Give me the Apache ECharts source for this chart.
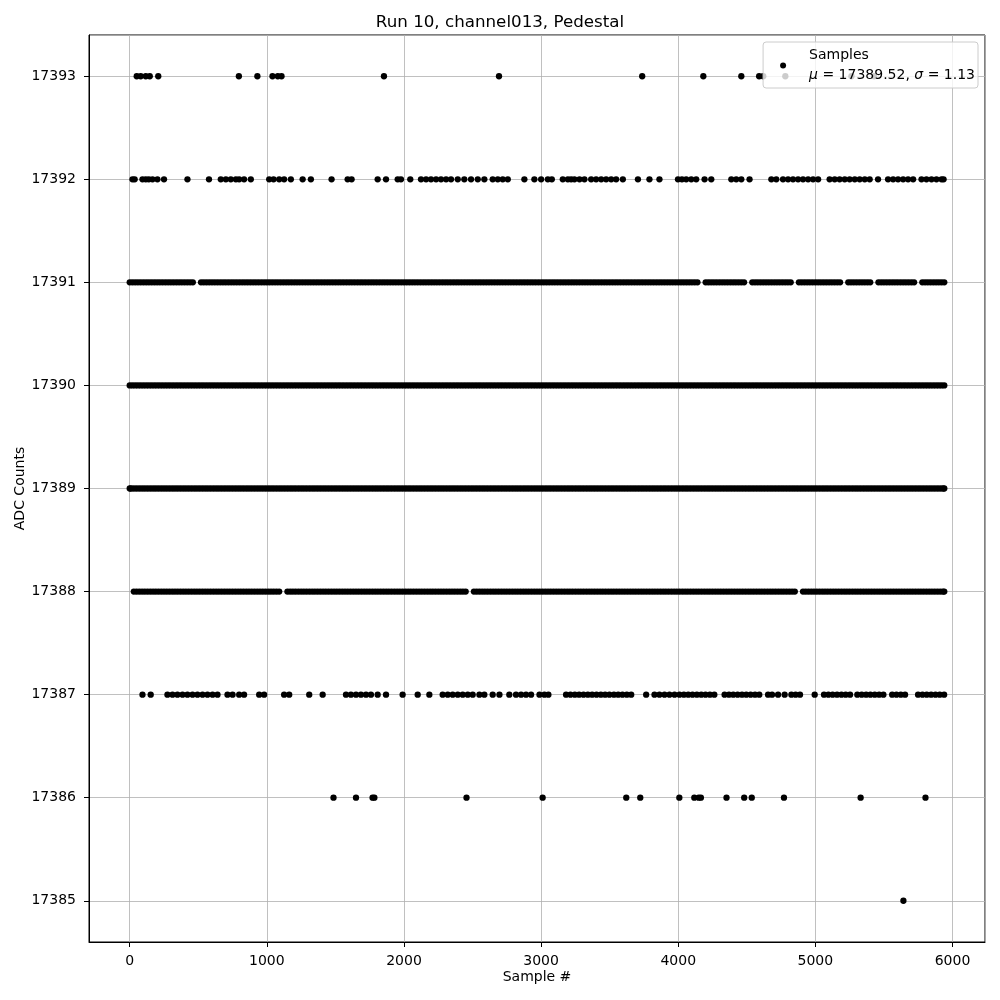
<!DOCTYPE html>
<html>
<head>
<meta charset="utf-8">
<script src="https://cdn.jsdelivr.net/npm/echarts@6/dist/echarts.min.js"></script>
<style>html,body{margin:0;padding:0;background:#fff}#c{width:1000px;height:1000px}</style>
</head>
<body>
<div id="c"></div>
<script>
// ADC levels (y values)
const levels = [17385, 17386, 17387, 17388, 17389, 17390, 17391, 17392, 17393];

const x17385 = [5642];
const x17386 = [1486, 1650, 1771, 1784, 2456, 3011, 3621, 3723, 4008, 4117, 4149, 4165, 4352, 4481, 4536, 4771, 5330, 5803];
const x17387 = [93, 153, 275, 312, 348, 385, 421, 458, 494, 531, 567, 604, 640, 713, 750, 798, 834, 944, 980, 1126, 1163, 1309, 1407, 1577, 1613, 1650, 1686, 1723, 1759, 1808, 1869, 1990, 2100, 2185, 2282, 2319, 2355, 2392, 2428, 2465, 2501, 2550, 2586, 2647, 2696, 2768, 2817, 2854, 2890, 2927, 2988, 3024, 3053, 3182, 3214, 3246, 3277, 3309, 3341, 3372, 3404, 3436, 3467, 3498, 3531, 3562, 3593, 3625, 3657, 3766, 3827, 3863, 3900, 3936, 3973, 4009, 4041, 4073, 4104, 4136, 4168, 4199, 4231, 4263, 4338, 4370, 4401, 4433, 4465, 4496, 4528, 4560, 4591, 4655, 4684, 4728, 4776, 4825, 4856, 4888, 4995, 5063, 5095, 5126, 5158, 5190, 5221, 5253, 5306, 5338, 5370, 5401, 5433, 5465, 5496, 5560, 5591, 5623, 5654, 5749, 5781, 5812, 5844, 5876, 5907, 5939];
const x17388 = [30,50,70,90,110,130,150,170,190,210,230,250,270,290,310,330,350,370,390,410,430,450,470,490,510,530,550,570,590,610,630,650,670,690,710,730,750,770,790,810,830,850,870,890,910,930,950,970,990,1010,1030,1050,1070,1090,
1150,1170,1190,1210,1230,1250,1270,1290,1310,1330,1350,1370,1390,1410,1430,1450,1470,1490,1510,1530,1550,1570,1590,1610,1630,1650,1670,1690,1710,1730,1750,1770,1790,1810,1830,1850,1870,1890,1910,1930,1950,1970,1990,
2010,2030,2050,2070,2090,2110,2130,2150,2170,2190,2210,2230,2250,2270,2290,2310,2330,2350,2370,2390,2410,2430,2450,
2510,2530,2550,2570,2590,2610,2630,2650,2670,2690,2710,2730,2750,2770,2790,2810,2830,2850,2870,2890,2910,2930,2950,2970,2990,
3010,3030,3050,3070,3090,3110,3130,3150,3170,3190,3210,3230,3250,3270,3290,3310,3330,3350,3370,3390,3410,3430,3450,3470,3490,3510,3530,3550,3570,3590,3610,3630,3650,3670,3690,3710,3730,3750,3770,3790,3810,3830,3850,3870,3890,3910,3930,3950,3970,3990,
4010,4030,4050,4070,4090,4110,4130,4150,4170,4190,4210,4230,4250,4270,4290,4310,4330,4350,4370,4390,4410,4430,4450,4470,4490,4510,4530,4550,4570,4590,4610,4630,4650,4670,4690,4710,4730,4750,4770,4790,4810,4830,4850,
4910,4930,4950,4970,4990,5010,5030,5050,5070,5090,5110,5130,5150,5170,5190,5210,5230,5250,5270,5290,5310,5330,5350,5370,5390,5410,5430,5450,5470,5490,5510,5530,5550,5570,5590,5610,5630,5650,5670,5690,5710,5730,5750,5770,5790,5810,5830,5850,5870,5890,5910,5930,5940];
const x17389 = [0,10,30,50,70,90,110,130,150,170,190,210,230,250,270,290,310,330,350,370,390,410,430,450,470,490,510,530,550,570,590,610,630,650,670,690,710,730,750,770,790,810,830,850,870,890,910,930,950,970,990,
1010,1030,1050,1070,1090,1110,1130,1150,1170,1190,1210,1230,1250,1270,1290,1310,1330,1350,1370,1390,1410,1430,1450,1470,1490,1510,1530,1550,1570,1590,1610,1630,1650,1670,1690,1710,1730,1750,1770,1790,1810,1830,1850,1870,1890,1910,1930,1950,1970,1990,
2010,2030,2050,2070,2090,2110,2130,2150,2170,2190,2210,2230,2250,2270,2290,2310,2330,2350,2370,2390,2410,2430,2450,2470,2490,2510,2530,2550,2570,2590,2610,2630,2650,2670,2690,2710,2730,2750,2770,2790,2810,2830,2850,2870,2890,2910,2930,2950,2970,2990,
3010,3030,3050,3070,3090,3110,3130,3150,3170,3190,3210,3230,3250,3270,3290,3310,3330,3350,3370,3390,3410,3430,3450,3470,3490,3510,3530,3550,3570,3590,3610,3630,3650,3670,3690,3710,3730,3750,3770,3790,3810,3830,3850,3870,3890,3910,3930,3950,3970,3990,
4010,4030,4050,4070,4090,4110,4130,4150,4170,4190,4210,4230,4250,4270,4290,4310,4330,4350,4370,4390,4410,4430,4450,4470,4490,4510,4530,4550,4570,4590,4610,4630,4650,4670,4690,4710,4730,4750,4770,4790,4810,4830,4850,4870,4890,4910,4930,4950,4970,4990,
5010,5030,5050,5070,5090,5110,5130,5150,5170,5190,5210,5230,5250,5270,5290,5310,5330,5350,5370,5390,5410,5430,5450,5470,5490,5510,5530,5550,5570,5590,5610,5630,5650,5670,5690,5710,5730,5750,5770,5790,5810,5830,5850,5870,5890,5910,5930,5940];
const x17390 = [0,20,40,60,80,100,120,140,160,180,200,220,240,260,280,300,320,340,360,380,400,420,440,460,480,500,520,540,560,580,600,620,640,660,680,700,720,740,760,780,800,820,840,860,880,900,920,940,960,980,
1000,1020,1040,1060,1080,1100,1120,1140,1160,1180,1200,1220,1240,1260,1280,1300,1320,1340,1360,1380,1400,1420,1440,1460,1480,1500,1520,1540,1560,1580,1600,1620,1640,1660,1680,1700,1720,1740,1760,1780,1800,1820,1840,1860,1880,1900,1920,1940,1960,1980,
2000,2020,2040,2060,2080,2100,2120,2140,2160,2180,2200,2220,2240,2260,2280,2300,2320,2340,2360,2380,2400,2420,2440,2460,2480,2500,2520,2540,2560,2580,2600,2620,2640,2660,2680,2700,2720,2740,2760,2780,2800,2820,2840,2860,2880,2900,2920,2940,2960,2980,
3000,3020,3040,3060,3080,3100,3120,3140,3160,3180,3200,3220,3240,3260,3280,3300,3320,3340,3360,3380,3400,3420,3440,3460,3480,3500,3520,3540,3560,3580,3600,3620,3640,3660,3680,3700,3720,3740,3760,3780,3800,3820,3840,3860,3880,3900,3920,3940,3960,3980,
4000,4020,4040,4060,4080,4100,4120,4140,4160,4180,4200,4220,4240,4260,4280,4300,4320,4340,4360,4380,4400,4420,4440,4460,4480,4500,4520,4540,4560,4580,4600,4620,4640,4660,4680,4700,4720,4740,4760,4780,4800,4820,4840,4860,4880,4900,4920,4940,4960,4980,
5000,5020,5040,5060,5080,5100,5120,5140,5160,5180,5200,5220,5240,5260,5280,5300,5320,5340,5360,5380,5400,5420,5440,5460,5480,5500,5520,5540,5560,5580,5600,5620,5640,5660,5680,5700,5720,5740,5760,5780,5800,5820,5840,5860,5880,5900,5920,5940];
const x17391 = [0,20,40,60,80,100,120,140,160,180,200,220,240,260,280,300,320,340,360,380,400,420,440,460,
520,540,560,580,600,620,640,660,680,700,720,740,760,780,800,820,840,860,880,900,920,940,960,980,
1000,1020,1040,1060,1080,1100,1120,1140,1160,1180,1200,1220,1240,1260,1280,1300,1320,1340,1360,1380,1400,1420,1440,1460,1480,1500,1520,1540,1560,1580,1600,1620,1640,1660,1680,1700,1720,1740,1760,1780,1800,1820,1840,1860,1880,1900,1920,1940,1960,1980,
2000,2020,2040,2060,2080,2100,2120,2140,2160,2180,2200,2220,2240,2260,2280,2300,2320,2340,2360,2380,2400,2420,2440,2460,2480,2500,2520,2540,2560,2580,2600,2620,2640,2660,2680,2700,2720,2740,2760,2780,2800,2820,2840,2860,2880,2900,2920,2940,2960,2980,
3000,3020,3040,3060,3080,3100,3120,3140,3160,3180,3200,3220,3240,3260,3280,3300,3320,3340,3360,3380,3400,3420,3440,3460,3480,3500,3520,3540,3560,3580,3600,3620,3640,3660,3680,3700,3720,3740,3760,3780,3800,3820,3840,3860,3880,3900,3920,3940,3960,3980,
4000,4020,4040,4060,4080,4100,4120,4140,
4200,4220,4240,4260,4280,4300,4320,4340,4360,4380,4400,4420,4440,4460,4480,
4540,4560,4580,4600,4620,4640,4660,4680,4700,4720,4740,4760,4780,4800,4820,
4880,4900,4920,4940,4960,4980,5000,5020,5040,5060,5080,5100,5120,5140,5160,5180,
5240,5260,5280,5300,5320,5340,5360,5380,5400,
5460,5480,5500,5520,5540,5560,5580,5600,5620,5640,5660,5680,5700,5720,
5780,5800,5820,5840,5860,5880,5900,5920,5940];
const x17392 = [20, 36, 93, 117, 139, 166, 202, 250, 421, 578, 664, 701, 737, 774, 798, 834, 883, 1017, 1049, 1090, 1126, 1175, 1261, 1321, 1472, 1589, 1618, 1808, 1869, 1954, 1978, 2046, 2124, 2161, 2197, 2234, 2270, 2307, 2343, 2392, 2440, 2489, 2538, 2586, 2647, 2684, 2720, 2757, 2878, 2951, 3000, 3049, 3078, 3158, 3195, 3219, 3243, 3280, 3316, 3365, 3401, 3438, 3474, 3511, 3547, 3596, 3706, 3790, 3863, 3998, 4027, 4058, 4095, 4131, 4192, 4241, 4387, 4423, 4460, 4520, 4679, 4715, 4764, 4801, 4837, 4874, 4910, 4947, 4983, 5020, 5104, 5141, 5177, 5214, 5250, 5287, 5323, 5360, 5396, 5457, 5530, 5567, 5603, 5640, 5676, 5713, 5774, 5810, 5847, 5883, 5920, 5935];
const x17393 = [51, 80, 117, 146, 208, 796, 931, 1041, 1080, 1107, 1854, 2693, 3737, 4183, 4460, 4590, 4620, 4781, 5263, 5428];

const xByLevel = [x17385, x17386, x17387, x17388, x17389, x17390, x17391, x17392, x17393];

const titleText = 'Run 10, channel013, Pedestal';
const seriesName = 'Samples';
const muText = '17389.52';
const sigmaText = '1.13';

const points = [];
levels.forEach((lv, i) => xByLevel[i].forEach(x => points.push([x, lv])));

const FONT = 'DejaVu Sans';
const FS = 14;
const chart = echarts.init(document.getElementById('c'), null, {renderer: 'canvas'});
chart.setOption({
  animation: false,
  backgroundColor: '#fff',
  textStyle: {fontFamily: FONT, color: '#000'},
  title: {
    text: titleText, left: 'center', top: 9,
    textStyle: {fontFamily: FONT, fontSize: 16.7, fontWeight: 'normal', color: '#000'}
  },
  grid: {left: 89, right: 15, top: 35, bottom: 58, outerBoundsMode: 'none', containLabel: false,
         show: true, borderColor: '#000', borderWidth: 1, backgroundColor: 'transparent'},
  legend: {
    right: 22, top: 42,
    padding: [3, 3, 2, 17],
    backgroundColor: 'rgba(255,255,255,0.8)',
    borderColor: '#cccccc', borderWidth: 1, borderRadius: 3,
    itemWidth: 24, itemHeight: 6,
    data: [seriesName],
    formatter: () => '{n|' + seriesName + '}\n{i|μ}{t| = ' + muText + ', }{j|σ}{t| = ' + sigmaText + '}',
    textStyle: {
      fontFamily: FONT, fontSize: FS, color: '#000', lineHeight: 20.5,
      rich: {
        n: {fontFamily: FONT, fontSize: FS, lineHeight: 20.5, padding: [0, 0, 0, 9]},
        i: {fontFamily: FONT, fontSize: FS, lineHeight: 20.5, fontStyle: 'italic', padding: [0, 0, 0, 9]},
        j: {fontFamily: FONT, fontSize: FS, lineHeight: 20.5, fontStyle: 'italic'},
        t: {fontFamily: FONT, fontSize: FS, lineHeight: 20.5}
      }
    }
  },
  xAxis: {
    type: 'value', min: -297, max: 6237, minInterval: 1000, maxInterval: 1000,
    name: 'Sample #', nameLocation: 'middle', nameGap: 28, nameMoveOverlap: false,
    nameTextStyle: {fontFamily: FONT, fontSize: FS, color: '#000'},
    axisLine: {show: true, onZero: false, lineStyle: {color: '#000', width: 1}},
    axisTick: {show: true, inside: false, length: 5, lineStyle: {color: '#000'}},
    axisLabel: {fontFamily: FONT, fontSize: FS, color: '#000', margin: 12, showMinLabel: false, showMaxLabel: false, formatter: v => String(v)},
    splitLine: {show: true, lineStyle: {color: '#b0b0b0', width: 0.8}}
  },
  yAxis: {
    type: 'value', min: 17384.6, max: 17393.4, minInterval: 1, maxInterval: 1,
    name: 'ADC Counts', nameLocation: 'middle', nameGap: 62, nameMoveOverlap: false,
    nameTextStyle: {fontFamily: FONT, fontSize: FS, color: '#000'},
    axisLine: {show: true, onZero: false, lineStyle: {color: '#000', width: 1}},
    axisTick: {show: true, inside: false, length: 5, lineStyle: {color: '#000'}},
    axisLabel: {fontFamily: FONT, fontSize: FS, color: '#000', margin: 13, showMinLabel: false, showMaxLabel: false, formatter: v => String(v)},
    splitLine: {show: true, lineStyle: {color: '#b0b0b0', width: 0.8}}
  },
  series: [{
    name: seriesName, type: 'scatter', data: points,
    symbol: 'circle', symbolSize: 6.3,
    itemStyle: {color: '#000', opacity: 1},
    large: false
  }]
});
</script>
</body>
</html>
